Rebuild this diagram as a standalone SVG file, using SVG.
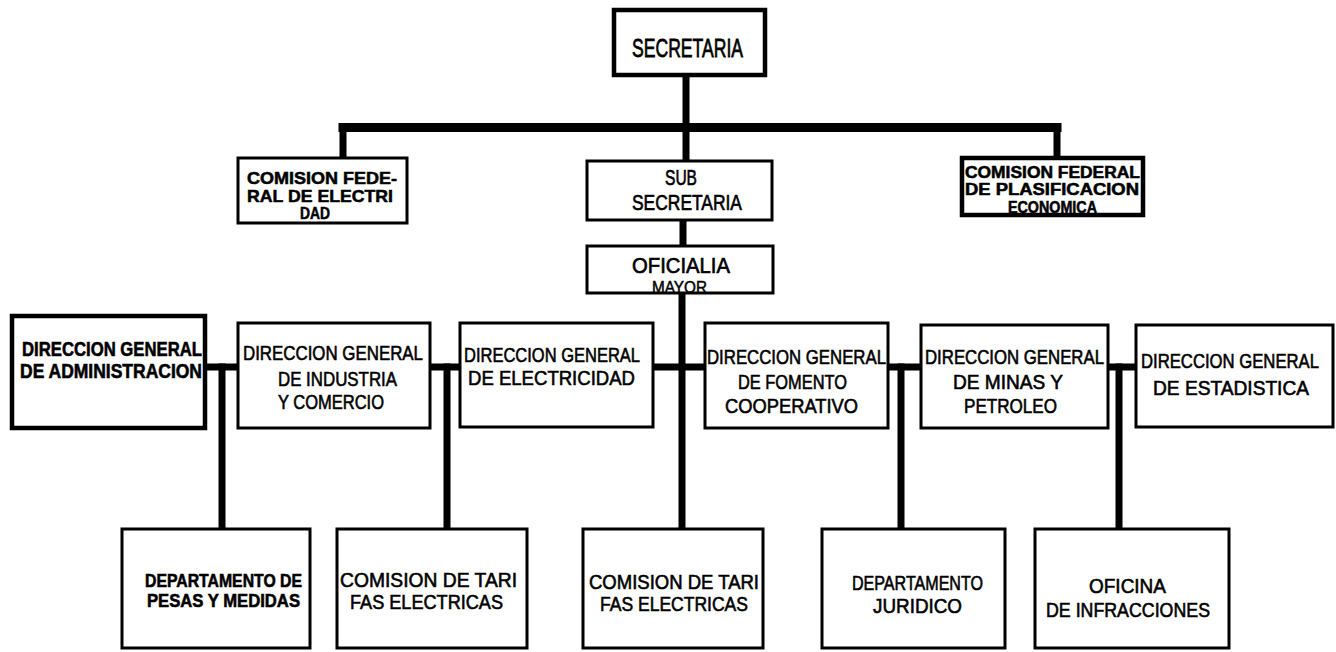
<svg xmlns="http://www.w3.org/2000/svg" width="1336" height="652" viewBox="0 0 1336 652">
<style>
.b{fill:#fff;stroke:#000;stroke-width:3}
.h{stroke-width:4.5}
.t{font-family:"Liberation Sans",Arial,sans-serif;font-size:17px;fill:#000;stroke:#000;stroke-width:0.5}
.k{font-weight:bold}
.m{font-size:16px}
.n{font-size:15px}
.c{stroke:#000;fill:none;stroke-linecap:square}
</style>
<rect width="1336" height="652" fill="#fff"/>
<g id="connectors">
<path class="c" stroke-width="9" d="M343 127.5H1057"/>
<path class="c" stroke-width="7" d="M343 127.5V158M1057 127.5V158M686 75V161M683 220V246M682 293V529"/>
<path class="c" stroke-width="7" d="M205 367H238M430 367H460M653 367H705M888 367H921M1108 367H1136"/>
<path class="c" stroke-width="7" d="M222 367V529M447 367V529M901 367V529M1119 367V529"/>
</g>
<g id="secretaria"><rect class="b h" x="614" y="10" width="151" height="65"/>
<text class="t" transform="translate(632,57) scale(1,1.5)" textLength="111" lengthAdjust="spacingAndGlyphs">SECRETARIA</text></g>
<g id="subsecretaria"><rect class="b" x="587" y="161" width="185" height="59"/>
<text class="t" transform="translate(665,185) scale(1,1.35)" textLength="32" lengthAdjust="spacingAndGlyphs">SUB</text>
<text class="t" transform="translate(632,210) scale(1,1.35)" textLength="110" lengthAdjust="spacingAndGlyphs">SECRETARIA</text></g>
<g id="oficialia"><rect class="b" x="587" y="246" width="186" height="47"/>
<text class="t" transform="translate(632,273) scale(1,1.35)" textLength="98" lengthAdjust="spacingAndGlyphs">OFICIALIA</text>
<text class="t" transform="translate(652,293)" textLength="55" lengthAdjust="spacingAndGlyphs">MAYOR</text></g>
<g id="comision-electricidad"><rect class="b" x="238" y="158" width="169" height="65" stroke-width="5"/>
<text class="t k m" transform="translate(247,184) scale(1,1.05)" textLength="150" lengthAdjust="spacingAndGlyphs">COMISION FEDE-</text>
<text class="t k m" transform="translate(247,202) scale(1,1.05)" textLength="146" lengthAdjust="spacingAndGlyphs">RAL DE ELECTRI</text>
<text class="t k m" transform="translate(300,219) scale(1,1.05)" textLength="30" lengthAdjust="spacingAndGlyphs">DAD</text></g>
<g id="comision-planificacion"><rect class="b h" x="962" y="158" width="181" height="57"/>
<text class="t k n" transform="translate(965,177.5) scale(1,1.05)" textLength="175" lengthAdjust="spacingAndGlyphs">COMISION FEDERAL</text>
<text class="t k n" transform="translate(965,195) scale(1,1.05)" textLength="174" lengthAdjust="spacingAndGlyphs">DE PLASIFICACION</text>
<text class="t k n" transform="translate(1008,212.5) scale(1,1.05)" textLength="89" lengthAdjust="spacingAndGlyphs">ECONOMICA</text></g>
<g id="dg-administracion"><rect class="b h" x="12" y="316" width="193" height="112"/>
<text class="t k" transform="translate(22,356) scale(1,1.15)" textLength="180" lengthAdjust="spacingAndGlyphs">DIRECCION GENERAL</text>
<text class="t k" transform="translate(20,378) scale(1,1.15)" textLength="182" lengthAdjust="spacingAndGlyphs">DE ADMINISTRACION</text></g>
<g id="dg-industria"><rect class="b" x="238" y="323" width="192" height="105"/>
<text class="t" transform="translate(243,360) scale(1,1.15)" textLength="180" lengthAdjust="spacingAndGlyphs">DIRECCION GENERAL</text>
<text class="t" transform="translate(278,386) scale(1,1.15)" textLength="119" lengthAdjust="spacingAndGlyphs">DE INDUSTRIA</text>
<text class="t" transform="translate(278,409) scale(1,1.15)" textLength="106" lengthAdjust="spacingAndGlyphs">Y COMERCIO</text></g>
<g id="dg-electricidad"><rect class="b" x="460" y="323" width="193" height="104"/>
<text class="t" transform="translate(464,362) scale(1,1.15)" textLength="176" lengthAdjust="spacingAndGlyphs">DIRECCION GENERAL</text>
<text class="t" transform="translate(468,385) scale(1,1.15)" textLength="167" lengthAdjust="spacingAndGlyphs">DE ELECTRICIDAD</text></g>
<g id="dg-fomento"><rect class="b" x="705" y="323" width="183" height="105"/>
<text class="t" transform="translate(707,364) scale(1,1.15)" textLength="179" lengthAdjust="spacingAndGlyphs">DIRECCION GENERAL</text>
<text class="t" transform="translate(738,389) scale(1,1.15)" textLength="109" lengthAdjust="spacingAndGlyphs">DE FOMENTO</text>
<text class="t" transform="translate(725,413) scale(1,1.15)" textLength="133" lengthAdjust="spacingAndGlyphs">COOPERATIVO</text></g>
<g id="dg-minas"><rect class="b" x="921" y="325" width="187" height="103"/>
<text class="t" transform="translate(925,364) scale(1,1.15)" textLength="179" lengthAdjust="spacingAndGlyphs">DIRECCION GENERAL</text>
<text class="t" transform="translate(953,389) scale(1,1.15)" textLength="110" lengthAdjust="spacingAndGlyphs">DE MINAS Y</text>
<text class="t" transform="translate(964,413) scale(1,1.15)" textLength="93" lengthAdjust="spacingAndGlyphs">PETROLEO</text></g>
<g id="dg-estadistica"><rect class="b" x="1136" y="325" width="197" height="102"/>
<text class="t" transform="translate(1141,368) scale(1,1.15)" textLength="178" lengthAdjust="spacingAndGlyphs">DIRECCION GENERAL</text>
<text class="t" transform="translate(1153,395) scale(1,1.15)" textLength="156" lengthAdjust="spacingAndGlyphs">DE ESTADISTICA</text></g>
<g id="depto-pesas"><rect class="b" x="122" y="529" width="188" height="119"/>
<text class="t k m" transform="translate(145,587) scale(1,1.1)" textLength="157" lengthAdjust="spacingAndGlyphs">DEPARTAMENTO DE</text>
<text class="t k m" transform="translate(147,607) scale(1,1.1)" textLength="153" lengthAdjust="spacingAndGlyphs">PESAS Y MEDIDAS</text></g>
<g id="comision-tarifas-1"><rect class="b" x="337" y="529" width="190" height="119"/>
<text class="t" transform="translate(340,587) scale(1,1.15)" textLength="177" lengthAdjust="spacingAndGlyphs">COMISION DE TARI</text>
<text class="t" transform="translate(350,609) scale(1,1.15)" textLength="153" lengthAdjust="spacingAndGlyphs">FAS ELECTRICAS</text></g>
<g id="comision-tarifas-2"><rect class="b" x="583" y="529" width="180" height="119"/>
<text class="t" transform="translate(589,589) scale(1,1.15)" textLength="170" lengthAdjust="spacingAndGlyphs">COMISION DE TARI</text>
<text class="t" transform="translate(600,611) scale(1,1.15)" textLength="148" lengthAdjust="spacingAndGlyphs">FAS ELECTRICAS</text></g>
<g id="depto-juridico"><rect class="b" x="822" y="529" width="183" height="119"/>
<text class="t" transform="translate(852,590) scale(1,1.15)" textLength="131" lengthAdjust="spacingAndGlyphs">DEPARTAMENTO</text>
<text class="t" transform="translate(873,613) scale(1,1.15)" textLength="89" lengthAdjust="spacingAndGlyphs">JURIDICO</text></g>
<g id="oficina-infracciones"><rect class="b" x="1035" y="529" width="194" height="119"/>
<text class="t" transform="translate(1089,593) scale(1,1.15)" textLength="77" lengthAdjust="spacingAndGlyphs">OFICINA</text>
<text class="t" transform="translate(1046,617) scale(1,1.15)" textLength="164" lengthAdjust="spacingAndGlyphs">DE INFRACCIONES</text></g>
</svg>
